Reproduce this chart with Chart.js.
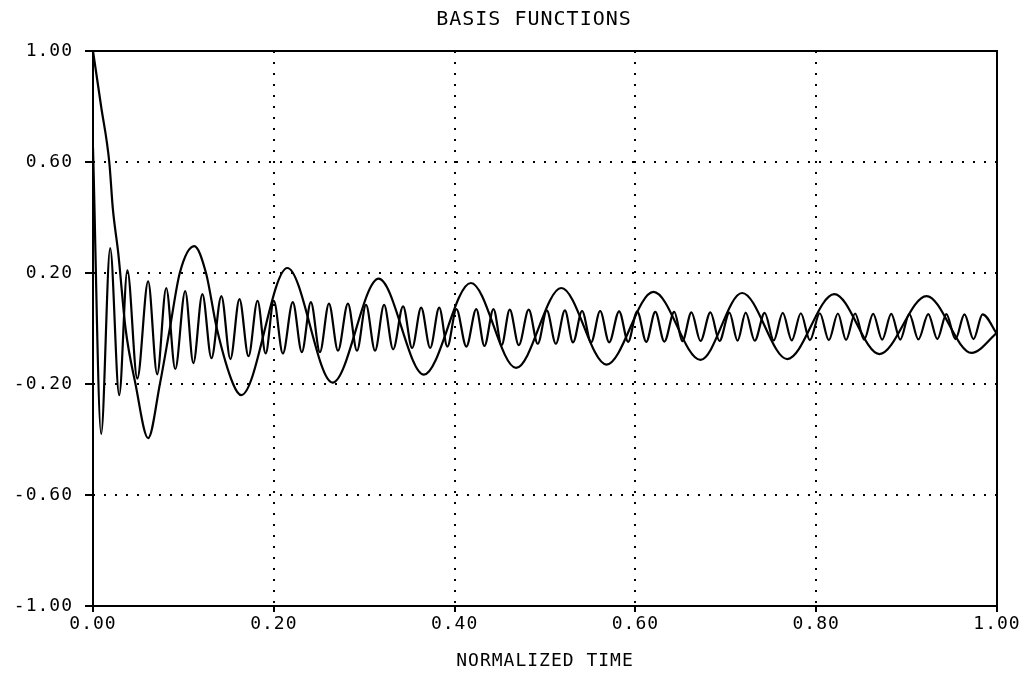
<!DOCTYPE html>
<html><head><meta charset="utf-8">
<script src="https://cdn.jsdelivr.net/npm/chart.js@4/dist/chart.umd.min.js"></script>
<style>html,body{margin:0;padding:0;background:#fff;}canvas{display:block;}</style>
</head><body>
<canvas id="c" width="1026" height="677"></canvas>
<script>
const xTickValues = [0, 0.2, 0.4, 0.6, 0.8, 1.0];
const yTickValues = [-1.0, -0.6, -0.2, 0.2, 0.6, 1.0];

// slow basis function
const slowTime = [0, 0.009, 0.018, 0.022, 0.028, 0.036, 0.047, 0.061, 0.074, 0.085, 0.096, 0.112, 0.125, 0.137, 0.155, 0.164,
  0.215, 0.265, 0.316, 0.366, 0.418, 0.468, 0.518, 0.568, 0.620, 0.672, 0.718, 0.768, 0.820, 0.870, 0.922, 0.972, 1.0];
const slowValue = [1.0, 0.80, 0.60, 0.43, 0.27, 0.0, -0.2, -0.395, -0.2, 0.0, 0.2, 0.297, 0.2, 0.0, -0.2, -0.24,
  0.218, -0.195, 0.18, -0.166, 0.164, -0.142, 0.146, -0.13, 0.132, -0.113, 0.128, -0.11, 0.124, -0.092, 0.117, -0.088, -0.016];

// fast basis function: start, peaks, troughs, end
const fastStart = [0, 0.65];
const fastEnd = [1.0, -0.02];
const fastPeakTime = [0.019, 0.038, 0.061, 0.081, 0.102, 0.121, 0.142, 0.162, 0.182, 0.200,
  0.221, 0.241, 0.261, 0.282, 0.302, 0.322, 0.343, 0.363, 0.383, 0.402,
  0.424, 0.443, 0.461, 0.482, 0.502, 0.522, 0.541, 0.561, 0.582, 0.602,
  0.622, 0.643, 0.662, 0.683, 0.704, 0.722, 0.743, 0.763, 0.783, 0.804,
  0.824, 0.843, 0.863, 0.883, 0.903, 0.924, 0.944, 0.964, 0.984];
const fastPeakValue = [0.29, 0.21, 0.17, 0.146, 0.135, 0.124, 0.117, 0.106, 0.10, 0.10,
  0.095, 0.095, 0.09, 0.09, 0.085, 0.085, 0.08, 0.075, 0.075, 0.07,
  0.07, 0.07, 0.068, 0.068, 0.065, 0.065, 0.063, 0.063, 0.062, 0.062,
  0.06, 0.06, 0.058, 0.058, 0.057, 0.057, 0.056, 0.056, 0.055, 0.055,
  0.054, 0.054, 0.053, 0.053, 0.052, 0.052, 0.052, 0.051, 0.051];
const fastTroughTime = [0.009, 0.029, 0.049, 0.071, 0.091, 0.111, 0.131, 0.152, 0.172, 0.191,
  0.210, 0.231, 0.251, 0.271, 0.292, 0.312, 0.332, 0.353, 0.373, 0.392,
  0.413, 0.433, 0.452, 0.471, 0.492, 0.512, 0.531, 0.551, 0.571, 0.592,
  0.612, 0.632, 0.652, 0.672, 0.693, 0.713, 0.732, 0.753, 0.773, 0.793,
  0.814, 0.833, 0.853, 0.873, 0.893, 0.913, 0.934, 0.954, 0.974];
const fastTroughValue = [-0.38, -0.24, -0.18, -0.165, -0.146, -0.125, -0.107, -0.11, -0.10, -0.09,
  -0.09, -0.085, -0.085, -0.08, -0.08, -0.08, -0.075, -0.07, -0.07, -0.065,
  -0.065, -0.063, -0.06, -0.06, -0.055, -0.055, -0.05, -0.05, -0.05, -0.048,
  -0.048, -0.047, -0.046, -0.045, -0.045, -0.044, -0.044, -0.043, -0.043, -0.042,
  -0.042, -0.041, -0.04, -0.04, -0.04, -0.039, -0.038, -0.038, -0.038];

const slowData = slowTime.map((t, i) => ({x: t, y: slowValue[i]}));
const fastData = [{x: fastStart[0], y: fastStart[1]}]
  .concat(fastPeakTime.map((t, i) => ({x: t, y: fastPeakValue[i]})))
  .concat(fastTroughTime.map((t, i) => ({x: t, y: fastTroughValue[i]})))
  .concat([{x: fastEnd[0], y: fastEnd[1]}])
  .sort((a, b) => a.x - b.x);

const FONT = "'DejaVu Sans Mono', 'Liberation Mono', monospace";

const framePlugin = {
  id: 'frame',
  afterLayout(chart) {
    // centre the title over x = 534 like the reference
    if (chart.titleBlock) { chart.titleBlock.left = 71; chart.titleBlock.right = 997; }
  },
  beforeDraw(chart) { chart.ctx.letterSpacing = '1px'; },
  afterDraw(chart) {
    const {ctx, chartArea: a} = chart;
    ctx.save();
    ctx.strokeStyle = '#000';
    ctx.lineWidth = 2;
    ctx.setLineDash([]);
    ctx.strokeRect(a.left, a.top, a.right - a.left, a.bottom - a.top);
    ctx.restore();
    ctx.letterSpacing = '0px';
  }
};

const edgeTransparent = (vals) => (c) => {
  const v = c.tick ? c.tick.value : null;
  return (v === vals[0] || v === vals[vals.length - 1]) ? 'rgba(0,0,0,0)' : '#000';
};

new Chart(document.getElementById('c'), {
  type: 'line',
  data: {
    datasets: [
      {label: 'slow', data: slowData, borderColor: '#000', borderWidth: 2.2, pointRadius: 0, cubicInterpolationMode: 'monotone', fill: false},
      {label: 'fast', data: fastData, borderColor: '#000', borderWidth: 2.2, pointRadius: 0, cubicInterpolationMode: 'monotone', fill: false}
    ]
  },
  options: {
    responsive: false,
    animation: false,
    devicePixelRatio: 1,
    layout: {padding: {left: 0, right: 29, top: 0, bottom: 0}},
    plugins: {
      legend: {display: false},
      tooltip: {enabled: false},
      title: {display: true, text: 'BASIS FUNCTIONS', color: '#000',
        font: {family: FONT, size: 20, weight: 'normal'}, padding: {top: 8, bottom: 19}}
    },
    scales: {
      x: {
        type: 'linear', min: 0, max: 1,
        afterBuildTicks: (s) => { s.ticks = xTickValues.map(v => ({value: v})); },
        afterFit: (s) => { s.height = 71; },
        ticks: {autoSkip: false, maxRotation: 0, color: '#000', padding: 2,
          font: {family: FONT, size: 18}, callback: (v) => Number(v).toFixed(2)},
        grid: {color: edgeTransparent(xTickValues), lineWidth: 2,
          drawTicks: true, tickLength: 6, tickColor: '#000', tickWidth: 2, tickBorderDash: []},
        border: {display: false, dash: [2, 9]},
        title: {display: true, text: 'NORMALIZED TIME', color: '#000',
          font: {family: FONT, size: 18, weight: 'normal'}, padding: {top: 0, bottom: 5}}
      },
      y: {
        type: 'linear', min: -1, max: 1,
        afterBuildTicks: (s) => { s.ticks = yTickValues.map(v => ({value: v})); },
        afterFit: (s) => { s.width = 93; },
        ticks: {autoSkip: false, color: '#000', padding: 12,
          font: {family: FONT, size: 18}, callback: (v) => Number(v).toFixed(2)},
        grid: {color: edgeTransparent(yTickValues), lineWidth: 2,
          drawTicks: true, tickLength: 8, tickColor: '#000', tickWidth: 2, tickBorderDash: []},
        border: {display: false, dash: [2, 9]}
      }
    }
  },
  plugins: [framePlugin]
});
</script>
</body></html>
